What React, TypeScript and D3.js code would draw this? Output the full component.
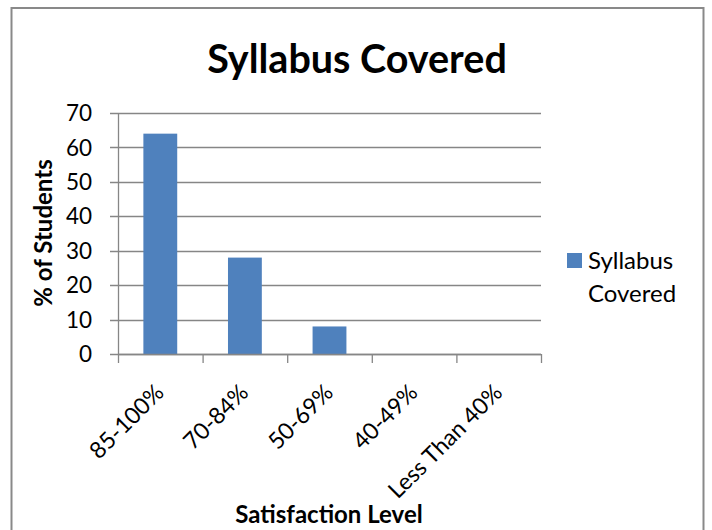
import * as d3 from 'd3';
import { useEffect, useRef } from 'react';

const categories = ['85-100%', '70-84%', '50-69%', '40-49%', 'Less Than 40%'];
const syllabusCovered = [64, 28, 8, 0, 0];
const yTicks = [0, 10, 20, 30, 40, 50, 60, 70];
const seriesName = 'Syllabus Covered';

const FONT = 'Lato, "Open Sans", sans-serif';

export default function App() {
    const ref = useRef<SVGSVGElement | null>(null);

    useEffect(() => {
        const width = 712, height = 530;
        const margin = { top: 113, right: 171, bottom: 176, left: 118 };
        const w = width - margin.left - margin.right;
        const h = height - margin.top - margin.bottom;

        const svg = d3.select(ref.current);
        svg.selectAll('*').remove();

        svg.append('rect')
            .attr('x', 0).attr('y', 0)
            .attr('width', width).attr('height', height)
            .attr('fill', '#fff');

        // outer chart border
        svg.append('rect')
            .attr('x', 11.5).attr('y', 8)
            .attr('width', 692).attr('height', 540)
            .attr('fill', 'none')
            .attr('stroke', '#898989')
            .attr('stroke-width', 2);

        const x = d3.scaleBand<string>()
            .domain(categories)
            .range([0, w])
            .paddingInner(0.6)
            .paddingOuter(0.3);

        const y = d3.scaleLinear()
            .domain([0, 70])
            .range([h, 0]);

        const g = svg.append('g')
            .attr('transform', 'translate(' + margin.left + ',' + margin.top + ')');

        // gridlines + y ticks
        g.append('g')
            .selectAll('line')
            .data(yTicks)
            .enter()
            .append('line')
            .attr('x1', -8)
            .attr('x2', w)
            .attr('y1', d => Math.round(y(d)) + 0.5)
            .attr('y2', d => Math.round(y(d)) + 0.5)
            .attr('stroke', '#868686')
            .attr('stroke-width', 1.3);

        g.append('g')
            .selectAll('text')
            .data(yTicks)
            .enter()
            .append('text')
            .attr('x', -26)
            .attr('y', d => y(d))
            .attr('dy', '0.36em')
            .attr('text-anchor', 'end')
            .style('font-family', FONT)
            .style('font-size', '22.5px')
            .attr('fill', '#000')
            .text(d => d);

        // y axis line
        g.append('line')
            .attr('x1', 0.5).attr('x2', 0.5)
            .attr('y1', 0).attr('y2', h)
            .attr('stroke', '#868686')
            .attr('stroke-width', 1.3);

        // bars
        g.append('g')
            .selectAll('rect')
            .data(syllabusCovered)
            .enter()
            .append('rect')
            .attr('x', (d, i) => x(categories[i]) as number)
            .attr('y', d => y(d))
            .attr('width', x.bandwidth())
            .attr('height', d => h - y(d))
            .style('fill', '#4f81bd');

        // x axis ticks at band boundaries
        const boundaries = d3.range(categories.length + 1).map(i => i * (w / categories.length));
        g.append('g')
            .selectAll('line')
            .data(boundaries)
            .enter()
            .append('line')
            .attr('x1', d => d + 0.5)
            .attr('x2', d => d + 0.5)
            .attr('y1', h)
            .attr('y2', h + 9)
            .attr('stroke', '#868686')
            .attr('stroke-width', 1.3);

        g.append('line')
            .attr('x1', 0).attr('x2', w)
            .attr('y1', h + 0.5).attr('y2', h + 0.5)
            .attr('stroke', '#868686')
            .attr('stroke-width', 1.3);

        // x labels, rotated
        g.append('g')
            .selectAll('text')
            .data(categories)
            .enter()
            .append('text')
            .attr('transform', d => 'translate(' + ((x(d) as number) + x.bandwidth() / 2 + 5) + ',' + (h + 40) + ') rotate(-45)')
            .attr('text-anchor', 'end')
            .style('font-family', FONT)
            .style('font-size', '23px')
            .attr('fill', '#000')
            .text(d => d);

        // titles
        svg.append('text')
            .attr('x', 357)
            .attr('y', 73)
            .attr('text-anchor', 'middle')
            .style('font-family', FONT)
            .style('font-size', '39.5px')
            .style('font-weight', 'bold')
            .text(seriesName);

        svg.append('text')
            .attr('transform', 'translate(52,233) rotate(-90)')
            .attr('text-anchor', 'middle')
            .style('font-family', FONT)
            .style('font-size', '24px')
            .style('font-weight', 'bold')
            .text('% of Students');

        svg.append('text')
            .attr('x', 329)
            .attr('y', 523)
            .attr('text-anchor', 'middle')
            .style('font-family', FONT)
            .style('font-size', '24px')
            .style('font-weight', 'bold')
            .text('Satisfaction Level');

        // legend
        const legend = svg.append('g').attr('transform', 'translate(567,253)');
        legend.append('rect')
            .attr('width', 15).attr('height', 15)
            .style('fill', '#4f81bd');
        const words = seriesName.split(' ');
        legend.selectAll('text.lg')
            .data(words)
            .enter()
            .append('text')
            .attr('class', 'lg')
            .attr('x', 21)
            .attr('y', (d, i) => 16 + i * 33)
            .style('font-family', FONT)
            .style('font-size', '24px')
            .text(d => d);
    }, []);

    return (
        <svg ref={ref} width={712} height={530}
            style={{ position: 'absolute', left: 0, top: 0, display: 'block' }} />
    );
}
